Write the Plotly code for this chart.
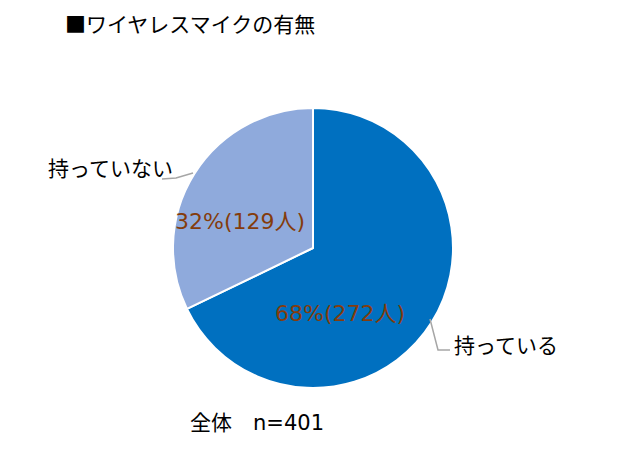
import plotly.graph_objects as go

labels = ["持っている", "持っていない"]
values = [272, 129]
colors = ["#0070C0", "#8FAADC"]
title = "■ワイヤレスマイクの有無"
note = "全体　n=401"

W, H = 625, 475
OFF = 8  # page body margin
cx, cy, R = 313 - OFF, 248 - OFF, 140
total = sum(values)


def px(x):
    return (x - OFF) / W


def py(y):
    return (H - (y - OFF)) / H


fig = go.Figure(go.Pie(
    labels=labels, values=values, sort=False, direction="clockwise", rotation=0,
    marker=dict(colors=colors, line=dict(color="white", width=2)),
    textinfo="none", hoverinfo="label+value+percent", showlegend=False,
    domain=dict(x=[(cx - R) / W, (cx + R) / W], y=[(H - cy - R) / H, (H - cy + R) / H]),
))

JP = "Noto Sans CJK JP"
LAT = "DejaVu Sans, Noto Sans CJK JP"
ann = []
inside_xy = [(340, 313), (240, 221)]
for v, (x, y) in zip(values, inside_xy):
    pct = round(v / total * 100)
    ann.append(dict(x=px(x), y=py(y), xref="paper", yref="paper", xanchor="center", yanchor="middle",
                    text=f"{pct}%({v}人)", showarrow=False,
                    font=dict(family=LAT, size=22, color="#843C0C")))
ann.append(dict(x=px(452), y=py(344), xref="paper", yref="paper", xanchor="left", yanchor="middle",
                text=labels[0], showarrow=False, font=dict(family=JP, size=21, color="black")))
ann.append(dict(x=px(175), y=py(167), xref="paper", yref="paper", xanchor="right", yanchor="middle",
                text=labels[1], showarrow=False, font=dict(family=JP, size=21, color="black")))
ann.append(dict(x=px(63), y=py(23), xref="paper", yref="paper", xanchor="left", yanchor="middle",
                text=title, showarrow=False, font=dict(family=JP, size=21, color="black")))
ann.append(dict(x=px(188), y=py(423), xref="paper", yref="paper", xanchor="left", yanchor="middle",
                text=note, showarrow=False, font=dict(family=LAT, size=21, color="black")))

shapes = [
    dict(type="path", xref="paper", yref="paper",
         path=f"M {px(430)},{py(319)} L {px(438)},{py(350)} L {px(450)},{py(350)}",
         line=dict(color="#A6A6A6", width=1.5)),
    dict(type="path", xref="paper", yref="paper",
         path=f"M {px(193)},{py(173)} L {px(176)},{py(178)} L {px(162)},{py(179)}",
         line=dict(color="#A6A6A6", width=1.5)),
]

fig.update_layout(width=W, height=H, margin=dict(l=0, r=0, t=0, b=0),
                  paper_bgcolor="white", plot_bgcolor="white",
                  annotations=ann, shapes=shapes, font=dict(family=JP))
fig.write_html("out.html")
